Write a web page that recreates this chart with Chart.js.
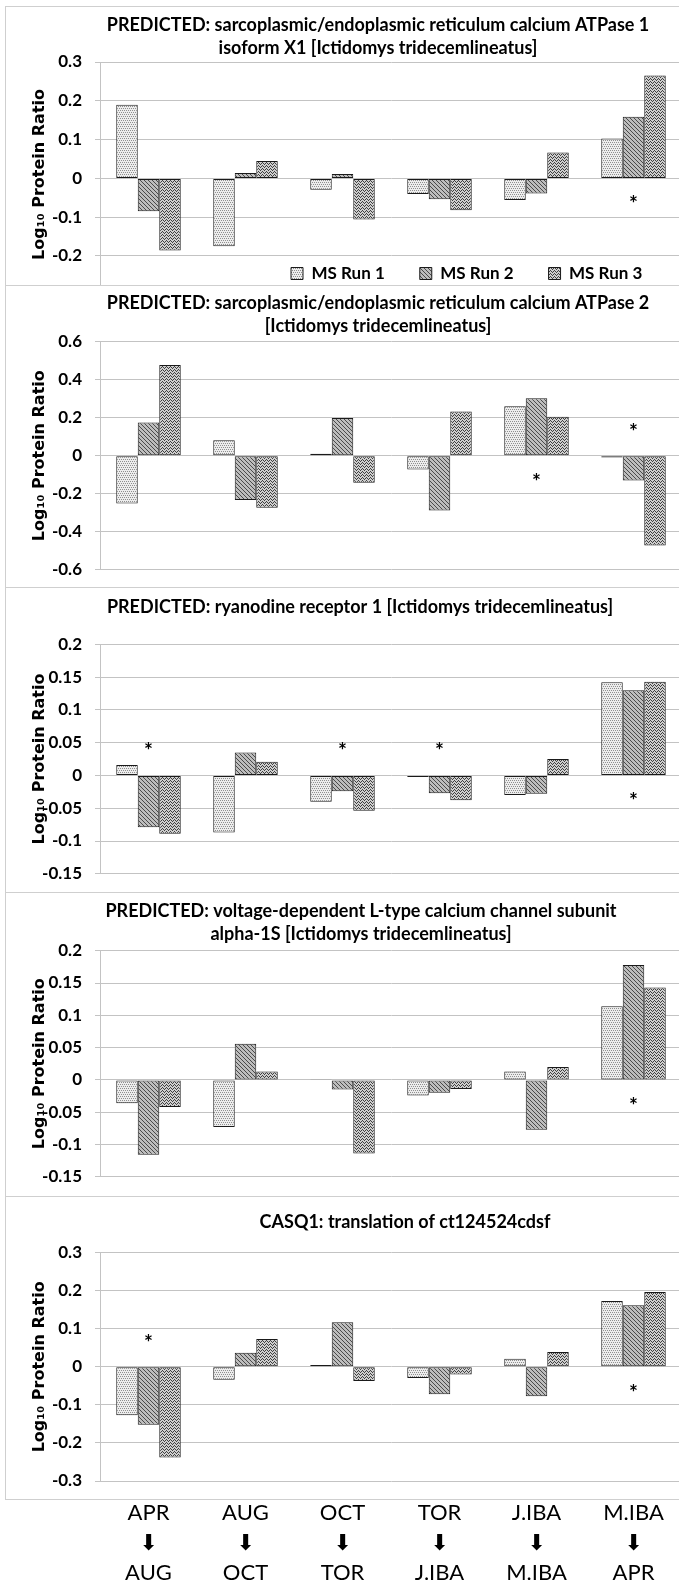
<!DOCTYPE html>
<html>
<head>
<meta charset="utf-8">
<title>Log10 protein ratio - calcium handling proteins</title>
<script src="https://cdn.jsdelivr.net/npm/chart.js@4.4.0/dist/chart.umd.min.js"></script>
<style>
  html, body { margin: 0; padding: 0; background: #fff; overflow: hidden; }
  body { width: 679px; height: 1585px; position: relative; }
  .clip { position: absolute; left: 6px; width: 690px; overflow: hidden; }
  .frame { position: absolute; left: 5px; width: 720px; border: 1px solid #cfcfcf; box-sizing: border-box; pointer-events: none; }
  canvas { display: block; }
</style>
</head>
<body>

<div class="clip" style="top:6px;height:279px"><canvas id="c1" width="690" height="343"></canvas></div>
<div class="clip" style="top:285px;height:302px"><canvas id="c2" width="690" height="308"></canvas></div>
<div class="clip" style="top:588px;height:304px"><canvas id="c3" width="690" height="309"></canvas></div>
<div class="clip" style="top:892px;height:304px"><canvas id="c4" width="690" height="308"></canvas></div>
<div class="clip" style="top:1196px;height:410px"><canvas id="c5" width="690" height="409"></canvas></div>

<div class="frame" style="top:6px;height:280px"></div>
<div class="frame" style="top:285px;height:303px"></div>
<div class="frame" style="top:587px;height:306px"></div>
<div class="frame" style="top:892px;height:305px"></div>
<div class="frame" style="top:1196px;height:304px"></div>

<script>
// ---------------------------
// Data
// ---------------------------
const categories = ['APR', 'AUG', 'OCT', 'TOR', 'J.IBA', 'M.IBA'];
const nextPeriod = ['AUG', 'OCT', 'TOR', 'J.IBA', 'M.IBA', 'APR'];
const runNames = ['MS Run 1', 'MS Run 2', 'MS Run 3'];

// SERCA1 isoform X1
const serca1Run1 = [0.19, -0.175, -0.029, -0.04, -0.056, 0.103];
const serca1Run2 = [-0.085, 0.014, 0.011, -0.054, -0.039, 0.159];
const serca1Run3 = [-0.186, 0.045, -0.106, -0.082, 0.067, 0.265];
const serca1Stars = ['', '', '', '', '', 'below'];
const serca1Ticks = [-0.2, -0.1, 0, 0.1, 0.2, 0.3];

// SERCA2
const serca2Run1 = [-0.251, 0.082, 0.011, -0.072, 0.26, -0.009];
const serca2Run2 = [0.175, -0.233, 0.198, -0.288, 0.302, -0.13];
const serca2Run3 = [0.477, -0.274, -0.142, 0.233, 0.205, -0.472];
const serca2Stars = ['', '', '', '', 'below', 'above'];
const serca2Ticks = [-0.6, -0.4, -0.2, 0, 0.2, 0.4, 0.6];

// ryanodine receptor 1
const ryr1Run1 = [0.016, -0.087, -0.04, -0.0025, -0.03, 0.142];
const ryr1Run2 = [-0.079, 0.035, -0.024, -0.027, -0.028, 0.13];
const ryr1Run3 = [-0.089, 0.021, -0.054, -0.038, 0.025, 0.143];
const ryr1Stars = ['above', '', 'above', 'above', '', 'below'];
const ryr1Ticks = [-0.15, -0.1, -0.05, 0, 0.05, 0.1, 0.15, 0.2];

// L-type calcium channel alpha-1S
const cav11Run1 = [-0.036, -0.073, 0.001, -0.024, 0.013, 0.114];
const cav11Run2 = [-0.116, 0.056, -0.015, -0.02, -0.077, 0.178];
const cav11Run3 = [-0.042, 0.013, -0.114, -0.014, 0.02, 0.143];
const cav11Stars = ['', '', '', '', '', 'below'];
const cav11Ticks = [-0.15, -0.1, -0.05, 0, 0.05, 0.1, 0.15, 0.2];

// CASQ1
const casq1Run1 = [-0.127, -0.034, 0.005, -0.029, 0.021, 0.173];
const casq1Run2 = [-0.152, 0.037, 0.117, -0.072, -0.077, 0.162];
const casq1Run3 = [-0.238, 0.073, -0.037, -0.02, 0.039, 0.197];
const casq1Stars = ['above', '', '', '', '', 'below'];
const casq1Ticks = [-0.3, -0.2, -0.1, 0, 0.1, 0.2, 0.3];

// ---------------------------
// Fill patterns for the three runs
// ---------------------------
function makePattern(w, h, bg, fg, pixels) {
    const c = document.createElement('canvas');
    c.width = w; c.height = h;
    const g = c.getContext('2d');
    g.fillStyle = bg;
    g.fillRect(0, 0, w, h);
    g.fillStyle = fg;
    pixels.forEach(([px, py]) => g.fillRect(px, py, 1, 1));
    return g.createPattern(c, 'repeat');
}

const runFills = [
    makePattern(4, 4, '#ededed', '#8f8f8f', [[0, 0], [2, 0], [1, 2], [3, 2]]),
    makePattern(4, 4, '#bdbdbd', '#4a4a4a', [[0, 0], [1, 1], [2, 2], [3, 3]]),
    makePattern(4, 3, '#cfcfcf', '#3f3f3f', [[0, 0], [1, 1], [2, 2], [3, 1]])
];

const FONT = 'Lato, "Liberation Sans", sans-serif';

// ---------------------------
// Small plugins: title/legend nudge + significance asterisks
// ---------------------------
const nudgePlugin = {
    id: 'nudge',
    afterLayout(chart, args, opts) {
        if (opts.titleDx && chart.titleBlock) {
            chart.titleBlock.left += opts.titleDx;
            chart.titleBlock.right += opts.titleDx;
        }
        const lg = chart.legend;
        if (opts.legendAt && lg && lg.options.display) {
            const pad = lg.options.labels.padding;
            const w = lg.width, h = lg.height;
            lg.left = opts.legendAt[0] - pad;
            lg.right = lg.left + w;
            lg.top = opts.legendAt[1] - pad;
            lg.bottom = lg.top + h;
        }
    }
};

const starPlugin = {
    id: 'stars',
    afterDatasetsDraw(chart, args, opts) {
        if (!opts.marks) return;
        const { ctx, scales: { x, y } } = chart;
        const zero = y.getPixelForValue(0);
        ctx.save();
        ctx.font = 'bold 21px ' + FONT;
        ctx.fillStyle = '#000';
        ctx.textAlign = 'center';
        ctx.textBaseline = 'alphabetic';
        opts.marks.forEach((m, i) => {
            if (!m) return;
            const py = m === 'above' ? zero - 30 : zero + 20;
            ctx.fillText('*', x.getPixelForValue(i), py + 13);
        });
        ctx.restore();
    }
};

// ---------------------------
// Panel builder
// ---------------------------
function makePanel(id, p) {
    const ctx = document.getElementById(id).getContext('2d');
    const runs = [p.run1, p.run2, p.run3];
    return new Chart(ctx, {
        type: 'bar',
        data: {
            labels: categories.map((c, i) => [c, '\u2B07', nextPeriod[i]]),
            datasets: runs.map((values, k) => ({
                label: runNames[k],
                data: values,
                backgroundColor: runFills[k],
                borderColor: '#1a1a1a',
                borderWidth: 1,
                borderSkipped: false,
                categoryPercentage: 0.665,
                barPercentage: 1
            }))
        },
        options: {
            responsive: false,
            maintainAspectRatio: false,
            animation: false,
            events: [],
            layout: { padding: { left: 0, right: 14, top: 0, bottom: 0 } },
            plugins: {
                title: {
                    display: true,
                    text: p.title,
                    color: '#000',
                    font: { family: FONT, size: 18, weight: 'bold', lineHeight: '23px' },
                    padding: { top: p.titleTop, bottom: p.titleBottom }
                },
                legend: {
                    display: !!p.legend,
                    position: 'bottom',
                    align: 'start',
                    labels: {
                        color: '#000',
                        font: { family: FONT, size: 17, weight: 'bold' },
                        boxWidth: 12,
                        boxHeight: 12,
                        padding: 35
                    }
                },
                tooltip: { enabled: false },
                nudge: { titleDx: p.titleDx, legendAt: p.legend },
                stars: { marks: p.stars }
            },
            scales: {
                x: {
                    display: !!p.showX,
                    grid: { display: false, drawTicks: false },
                    border: { display: false },
                    ticks: {
                        color: '#000',
                        padding: 17,
                        autoSkip: false,
                        maxRotation: 0,
                        font: { family: FONT + ', "DejaVu Sans"', size: 22, lineHeight: '30px' }
                    }
                },
                y: {
                    min: p.min,
                    max: p.max,
                    afterFit: s => { s.width = 94; },
                    afterBuildTicks: s => { s.ticks = p.ticks.map(v => ({ value: v })); },
                    grid: { color: '#c3c3c3', tickLength: 5 },
                    border: { color: '#c3c3c3' },
                    ticks: {
                        color: '#000',
                        padding: 13,
                        font: { family: FONT, size: 17, weight: 'bold' },
                        callback: v => String(v)
                    },
                    title: {
                        display: true,
                        text: 'Log\u2081\u2080 Protein Ratio',
                        color: '#000',
                        font: { family: '"DejaVu Sans", Verdana, sans-serif', size: 16, weight: 'bold', lineHeight: 1.2 },
                        padding: { top: 24, bottom: 0 }
                    }
                }
            }
        },
        plugins: [nudgePlugin, starPlugin]
    });
}

// ---------------------------
// The five panels
// ---------------------------
makePanel('c1', {
    title: ['PREDICTED: sarcoplasmic/endoplasmic reticulum calcium ATPase 1', 'isoform X1 [Ictidomys tridecemlineatus]'],
    titleTop: 7.5, titleBottom: 2.5, titleDx: 34,
    run1: serca1Run1, run2: serca1Run2, run3: serca1Run3,
    stars: serca1Stars, ticks: serca1Ticks, min: -0.28, max: 0.3,
    legend: [285, 259]
});

makePanel('c2', {
    title: ['PREDICTED: sarcoplasmic/endoplasmic reticulum calcium ATPase 2', '[Ictidomys tridecemlineatus]'],
    titleTop: 6.8, titleBottom: 3.9, titleDx: 34,
    run1: serca2Run1, run2: serca2Run2, run3: serca2Run3,
    stars: serca2Stars, ticks: serca2Ticks, min: -0.6, max: 0.6
});

makePanel('c3', {
    title: 'PREDICTED: ryanodine receptor 1 [Ictidomys tridecemlineatus]',
    titleTop: 7.5, titleBottom: 25.8, titleDx: 16,
    run1: ryr1Run1, run2: ryr1Run2, run3: ryr1Run3,
    stars: ryr1Stars, ticks: ryr1Ticks, min: -0.15, max: 0.2
});

makePanel('c4', {
    title: ['PREDICTED: voltage-dependent L-type calcium channel subunit', 'alpha-1S [Ictidomys tridecemlineatus]'],
    titleTop: 7.5, titleBottom: 5.2, titleDx: 17,
    run1: cav11Run1, run2: cav11Run2, run3: cav11Run3,
    stars: cav11Stars, ticks: cav11Ticks, min: -0.15, max: 0.2
});

makePanel('c5', {
    title: 'CASQ1: translation of ct124524cdsf',
    titleTop: 14.2, titleBottom: 19.5, titleDx: 61,
    run1: casq1Run1, run2: casq1Run2, run3: casq1Run3,
    stars: casq1Stars, ticks: casq1Ticks, min: -0.3, max: 0.3,
    showX: true
});
</script>
</body>
</html>
